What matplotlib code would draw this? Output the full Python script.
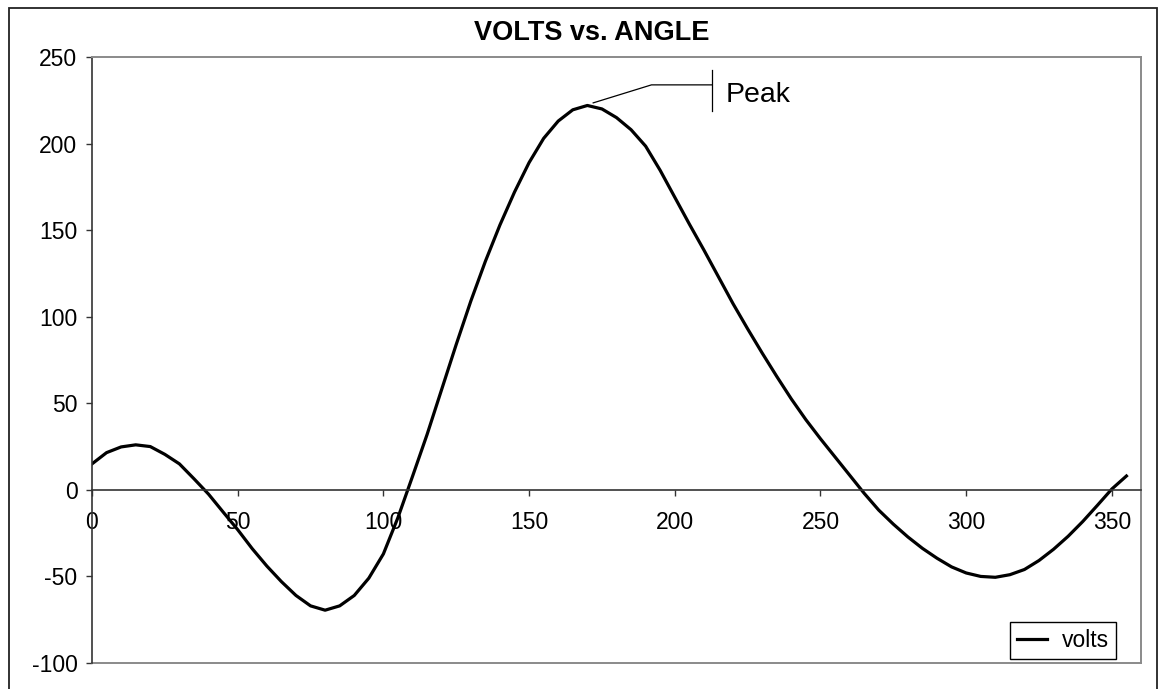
import matplotlib
matplotlib.use("Agg")
import matplotlib.pyplot as plt
from matplotlib.patches import Rectangle
import numpy as np

plt.rcParams['font.family'] = ['Liberation Sans', 'DejaVu Sans']
plt.rcParams['axes.unicode_minus'] = False

# angle in degrees, volts
angle = list(range(0, 360, 5))
volts = [15, 21.5, 24.8, 26, 25, 20.5, 15, 6.4, -2.5, -12.8,
         -23, -34, -44, -53, -61, -67, -69.5, -67, -61, -51,
         -37, -16, 7.8, 32, 58, 84, 109, 132, 153, 172,
         189, 203, 213, 219.5, 222, 220, 215, 208, 198.5, 184.5,
         169, 153.5, 138.5, 123, 107.5, 93, 79, 65.5, 52.5, 40.5,
         29.5, 19, 8.5, -2, -11.7, -19.8, -27.2, -33.8, -39.5, -44.5,
         -48, -50, -50.5, -49, -46, -40.8, -34.3, -26.8, -18.3, -9,
         0.5, 8]

title = "VOLTS vs. ANGLE"
series_name = "volts"
peak_label = "Peak"
x_ticks = [0, 50, 100, 150, 200, 250, 300, 350]
y_ticks = [-100, -50, 0, 50, 100, 150, 200, 250]

W, H = 1160, 689
fig = plt.figure(figsize=(W / 100, H / 100), dpi=100)

# outer chart frame
fig.patches.append(Rectangle((9 / W, -0.02), 1148 / W, 1.02 - 8 / H,
                             transform=fig.transFigure, fill=False,
                             edgecolor='#222222', linewidth=1.3))

ax = fig.add_axes([92 / W, (H - 663) / H, 1049 / W, 606 / H])
ax.plot(angle, volts, color='black', linewidth=2.3, label=series_name,
        solid_joinstyle='round')

ax.set_xlim(0, 360)
ax.set_ylim(-100, 250)
ax.set_xticks(x_ticks)
ax.set_yticks(y_ticks)

dark = '#333333'
gray = '#8a8a8a'
ax.spines['left'].set_color(dark)
ax.spines['left'].set_linewidth(1.2)
ax.spines['top'].set_color(gray)
ax.spines['right'].set_color(gray)
for s in ('top', 'right'):
    ax.spines[s].set_linewidth(1.4)
ax.spines['bottom'].set_position(('data', 0))
ax.spines['bottom'].set_color(dark)
ax.spines['bottom'].set_linewidth(1.2)
# bottom border of the plot area
ax.plot([0, 1], [0, 0], transform=ax.transAxes, color=gray, linewidth=1.4,
        clip_on=False)

ax.tick_params(axis='both', direction='out', length=4.5, width=1.0,
               color=dark, labelsize=16.5)
ax.tick_params(axis='x', pad=11)
ax.tick_params(axis='y', pad=6)

fig.text(592 / W, 1 - 33 / H, title, ha='center', va='center',
         fontsize=19.5, fontweight='bold')

# peak callout
i = int(np.argmax(volts))
px, py = angle[i] + 2, volts[i] + 1.5
ax.plot([px, px + 20, px + 40.8], [py, py + 10.4, py + 10.4],
        color='black', linewidth=0.9)
ax.plot([px + 40.8, px + 40.8], [py - 4.6, py + 19], color='black',
        linewidth=0.9)
ax.text(px + 45.3, py + 0.6, peak_label, fontsize=20.5, va='baseline',
        ha='left')

leg = ax.legend(loc='lower right', bbox_to_anchor=(0.976, 0.0066),
                borderaxespad=0, fontsize=16.5, handlelength=1.3,
                handletextpad=0.65, borderpad=0.3, fancybox=False,
                framealpha=1, edgecolor='black')
leg.get_frame().set_linewidth(1.0)

fig.savefig("out.png", dpi=100)
